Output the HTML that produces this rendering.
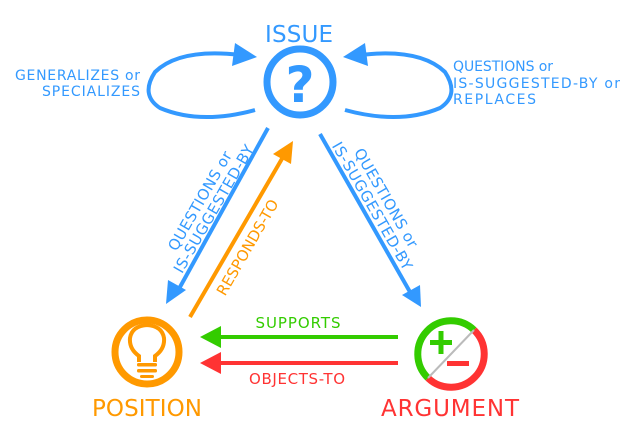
<!DOCTYPE html><html><head><style>body{margin:0;background:#fff}svg{display:block}text{font-family:"DejaVu Sans","Liberation Sans",sans-serif}</style></head><body>
<svg width="640" height="440" viewBox="0 0 640 440" xmlns="http://www.w3.org/2000/svg">
<text x="299" y="42" font-size="23" fill="#3399ff" text-anchor="middle" textLength="68">ISSUE</text>
<circle cx="300" cy="82" r="33" fill="none" stroke="#3399ff" stroke-width="7"/>
<text x="300" y="102" font-size="50" font-weight="bold" fill="#3399ff" text-anchor="middle">?</text>
<path d="M255,110 Q200,125 160,108 Q140,95 155,72 Q180,48 240,55" fill="none" stroke="#3399ff" stroke-width="4"/>
<path d="M235,43 L257,57 L232,66z" fill="#3399ff"/>
<path d="M345,110 Q400,125 440,108 Q460,95 445,72 Q420,48 360,55" fill="none" stroke="#3399ff" stroke-width="4"/>
<path d="M365,43 L343,57 L368,66z" fill="#3399ff"/>
<g font-size="14" fill="#3399ff">
<text x="140" y="80" text-anchor="end" textLength="125">GENERALIZES or</text>
<text x="140" y="96" text-anchor="end" textLength="98">SPECIALIZES</text>
<text x="453" y="71" textLength="100">QUESTIONS or</text>
<text x="453" y="88" textLength="167">IS-SUGGESTED-BY or</text>
<text x="453" y="104" textLength="83">REPLACES</text>
</g>
<line x1="268" y1="128" x2="180" y2="287" stroke="#3399ff" stroke-width="4"/>
<path d="M166,304 L168,280 L186,290z" fill="#3399ff"/>
<line x1="320" y1="134" x2="410" y2="292" stroke="#3399ff" stroke-width="4"/>
<path d="M421,307 L402,295 L420,285z" fill="#3399ff"/>
<line x1="190" y1="317" x2="283" y2="157" stroke="#ff9900" stroke-width="4"/>
<path d="M293,141 L291,164 L273,154z" fill="#ff9900"/>
<g font-size="15" fill="#3399ff">
<text transform="translate(207,205) rotate(-60)" text-anchor="middle"><tspan x="0" y="-3" textLength="112">QUESTIONS or</tspan><tspan x="0" y="13" textLength="145">IS-SUGGESTED-BY</tspan></text>
<text transform="translate(379,202) rotate(60)" text-anchor="middle"><tspan x="0" y="-3" textLength="112">QUESTIONS or</tspan><tspan x="0" y="13" textLength="145">IS-SUGGESTED-BY</tspan></text>
</g>
<text transform="translate(252,250) rotate(-60)" text-anchor="middle" font-size="15" fill="#ff9900" textLength="108">RESPONDS-TO</text>
<line x1="398" y1="337" x2="215" y2="337" stroke="#33cc00" stroke-width="4"/>
<path d="M200,337 L221,326 L221,348z" fill="#33cc00"/>
<line x1="398" y1="363" x2="215" y2="363" stroke="#ff3333" stroke-width="4"/>
<path d="M200,363 L221,352 L221,374z" fill="#ff3333"/>
<text x="298" y="328" font-size="15" fill="#33cc00" text-anchor="middle" textLength="85">SUPPORTS</text>
<text x="297" y="384" font-size="15" fill="#ff3333" text-anchor="middle" textLength="96">OBJECTS-TO</text>
<circle cx="147" cy="352" r="32" fill="none" stroke="#ff9900" stroke-width="7"/>
<path d="M139,362 L139,356 Q129,349 130,338 Q132,326 147,325 Q162,326 164,338 Q165,349 155,356 L155,362" fill="none" stroke="#ff9900" stroke-width="4"/>
<rect x="137" y="363" width="20" height="3.5" rx="1.5" fill="#ff9900"/>
<rect x="137" y="369" width="20" height="3.5" rx="1.5" fill="#ff9900"/>
<rect x="140" y="375" width="14" height="3" rx="1.5" fill="#ff9900"/>
<text x="147" y="416" font-size="23" fill="#ff9900" text-anchor="middle" textLength="110">POSITION</text>
<path d="M428,378 A32,32 0 0 1 474,330" fill="none" stroke="#33cc00" stroke-width="7"/>
<path d="M474,330 A32,32 0 0 1 428,378" fill="none" stroke="#ff3333" stroke-width="7"/>
<line x1="428" y1="378" x2="474" y2="330" stroke="#bbbbbb" stroke-width="2"/>
<rect x="430" y="340" width="22" height="5" fill="#33cc00"/>
<rect x="438.5" y="331" width="5" height="23" fill="#33cc00"/>
<rect x="447" y="361" width="22" height="5" fill="#ff3333"/>
<text x="450" y="416" font-size="23" fill="#ff3333" text-anchor="middle" textLength="138">ARGUMENT</text>
</svg></body></html>
